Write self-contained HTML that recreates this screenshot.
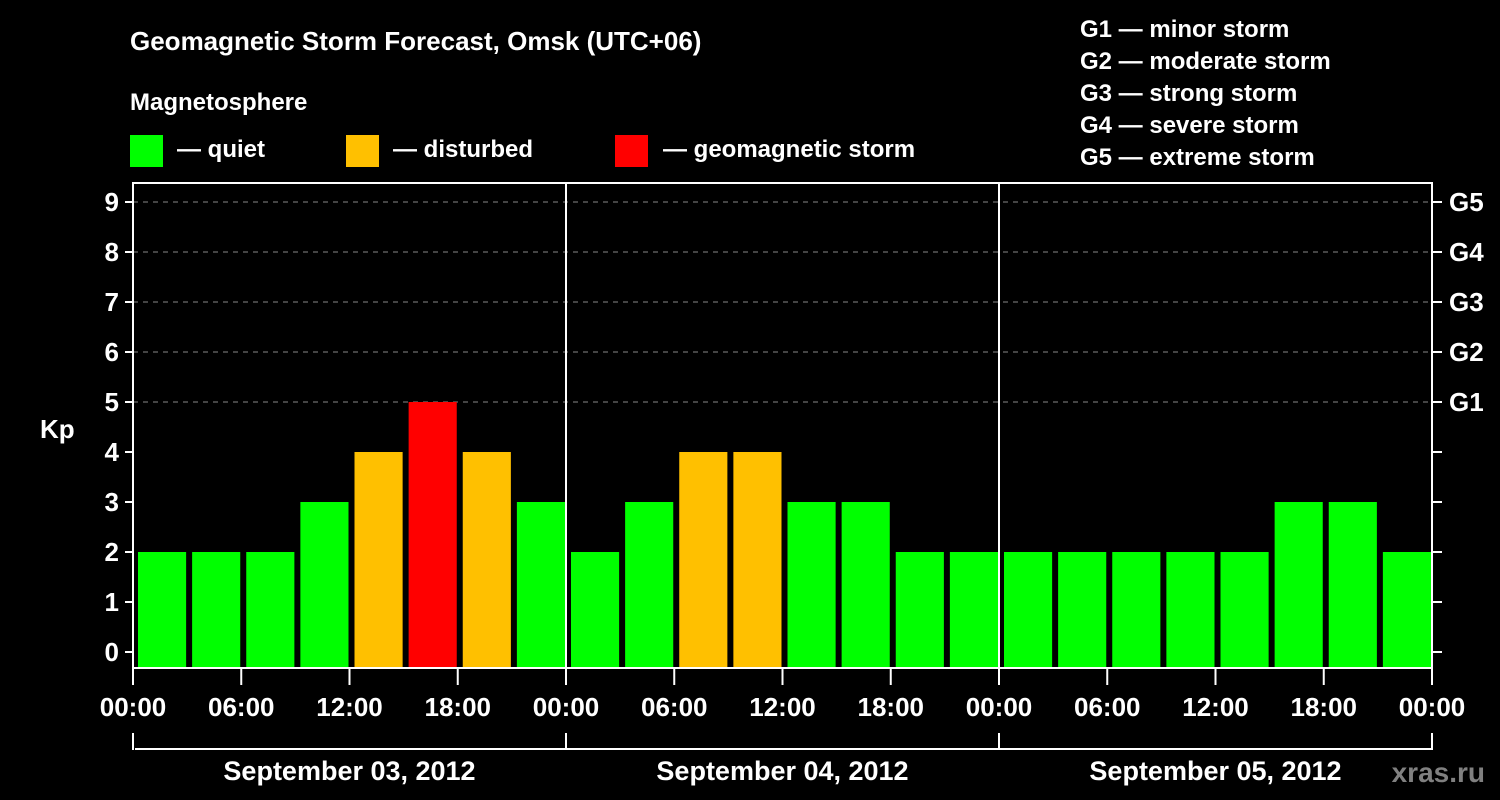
<!DOCTYPE html>
<html><head><meta charset="utf-8"><style>
html,body{margin:0;padding:0;background:#000;}
svg{display:block;font-family:"Liberation Sans",Arial,sans-serif;font-weight:bold;}
</style></head><body>
<svg id="c" width="1500" height="800" viewBox="0 0 1500 800">
<rect width="1500" height="800" fill="#000"/>
<text x="130" y="50" fill="#fff" font-size="26">Geomagnetic Storm Forecast, Omsk (UTC+06)</text>
<text x="130" y="110" fill="#fff" font-size="24">Magnetosphere</text>
<g><rect x="130" y="135" width="33" height="32" fill="#00ff00"/><text x="177" y="157" fill="#fff" font-size="24">— quiet</text></g>
<g><rect x="346" y="135" width="33" height="32" fill="#ffc000"/><text x="393" y="157" fill="#fff" font-size="24">— disturbed</text></g>
<g><rect x="615" y="135" width="33" height="32" fill="#ff0000"/><text x="663" y="157" fill="#fff" font-size="24">— geomagnetic storm</text></g>
<g fill="#fff" font-size="24">
<text x="1080" y="37">G1 — minor storm</text>
<text x="1080" y="69">G2 — moderate storm</text>
<text x="1080" y="101">G3 — strong storm</text>
<text x="1080" y="133">G4 — severe storm</text>
<text x="1080" y="165">G5 — extreme storm</text>
</g>
<text x="40" y="438" fill="#fff" font-size="26">Kp</text>
<text x="1485" y="782" fill="#808080" font-size="28" text-anchor="end">xras.ru</text>
<g id="plot"></g>
</svg>
<script>
const values=[2,2,2,3,4,5,4,3, 2,3,4,4,3,3,2,2, 2,2,2,2,2,3,3,2];
const yTicks=[0,1,2,3,4,5,6,7,8,9];
const gLabels=["G1","G2","G3","G4","G5"];
const gLevels=[5,6,7,8,9];
const xLabels=["00:00","06:00","12:00","18:00","00:00","06:00","12:00","18:00","00:00","06:00","12:00","18:00","00:00"];
const days=["September 03, 2012","September 04, 2012","September 05, 2012"];

const NS="http://www.w3.org/2000/svg";
const L=133,R=1432,T=183,B=668;
const slot=(R-L)/values.length;
const y=v=>652-v*50;
const x=i=>L+i*slot;
const g=document.getElementById('plot');
function mk(t,a,p){const e=document.createElementNS(NS,t);for(const k in a)e.setAttribute(k,a[k]);(p||g).appendChild(e);return e;}
function col(v){return v>=5?"#ff0000":(v>=4?"#ffc000":"#00ff00");}
// grid
yTicks.forEach(v=>{if(v>=5){const l=mk('line',{x1:L,x2:R,y1:y(v),y2:y(v),stroke:'#888','stroke-dasharray':'5,5','stroke-width':1});

}});
// bars
values.forEach((v,i)=>{const r=mk('rect',{x:x(i)+5,y:y(v),width:slot-6,height:B-y(v),fill:col(v)});

});
// frame
const f=mk('rect',{x:L,y:T,width:R-L,height:B-T,fill:'none',stroke:'#fff','stroke-width':2});


for(let d=1;d<days.length;d++){const l=mk('line',{x1:x(d*8),x2:x(d*8),y1:T,y2:B,stroke:'#fff','stroke-width':2});

}
// y ticks
yTicks.forEach(v=>{mk('line',{x1:L-8,x2:L,y1:y(v),y2:y(v),stroke:'#fff','stroke-width':2});
mk('line',{x1:R,x2:R+10,y1:y(v),y2:y(v),stroke:'#fff','stroke-width':2});
const t=mk('text',{x:L-14,y:y(v)+9,fill:'#fff','font-size':26,'text-anchor':'end'});t.textContent=v;

});
gLevels.forEach((v,i)=>{const t=mk('text',{x:1449,y:y(v)+9,fill:'#fff','font-size':26});t.textContent=gLabels[i];

});
// x ticks
xLabels.forEach((s,i)=>{const xx=x(i*2);mk('line',{x1:xx,x2:xx,y1:B,y2:685,stroke:'#fff','stroke-width':2});
const t=mk('text',{x:xx,y:716,fill:'#fff','font-size':26,'text-anchor':'middle'});t.textContent=s;

});
// day brackets
mk('line',{x1:L+2,x2:R,y1:749,y2:749,stroke:'#fff','stroke-width':2});
for(let d=0;d<=days.length;d++){const xx=x(d*8);mk('line',{x1:xx,x2:xx,y1:733,y2:750,stroke:'#fff','stroke-width':2});}
days.forEach((s,d)=>{const t=mk('text',{x:(x(d*8)+x(d*8+8))/2,y:780,fill:'#fff','font-size':27,'text-anchor':'middle'});t.textContent=s;

});
</script>
</body></html>
